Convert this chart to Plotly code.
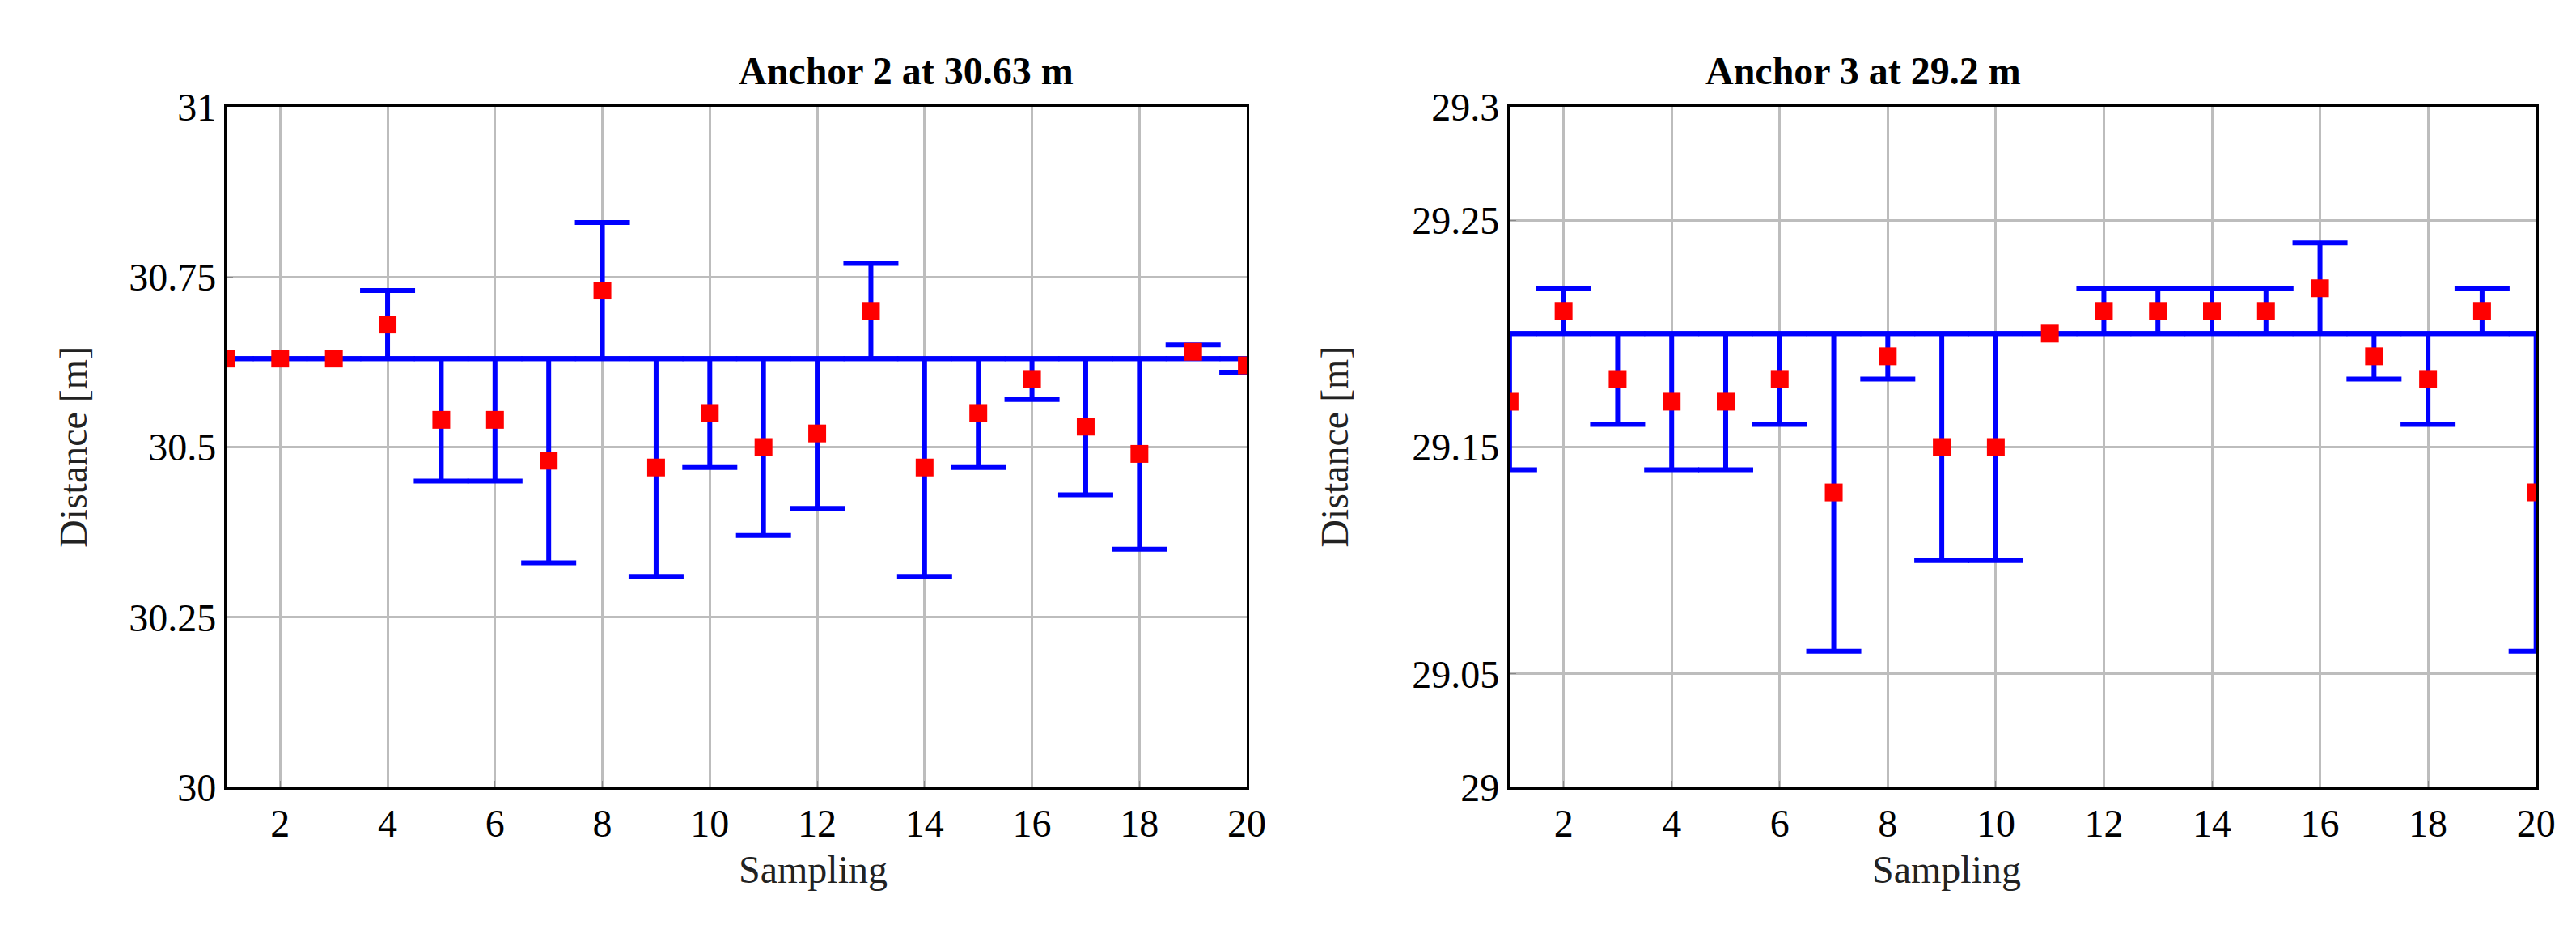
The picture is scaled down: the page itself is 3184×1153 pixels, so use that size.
import plotly.graph_objects as go
from plotly.subplots import make_subplots

samples = list(range(1, 21))
true2 = 30.63
meas2 = [30.63, 30.63, 30.63, 30.68, 30.54, 30.54, 30.48, 30.73, 30.47, 30.55,
         30.50, 30.52, 30.70, 30.47, 30.55, 30.60, 30.53, 30.49, 30.64, 30.62]
true3 = 29.2
meas3 = [29.17, 29.21, 29.18, 29.17, 29.17, 29.18, 29.13, 29.19, 29.15, 29.15,
         29.20, 29.21, 29.21, 29.21, 29.21, 29.22, 29.19, 29.18, 29.21, 29.13]
titles = ["Anchor 2 at 30.63 m", "Anchor 3 at 29.2 m"]
yt2 = [30, 30.25, 30.5, 30.75, 31]
yt2_txt = ["30", "30.25", "30.5", "30.75", "31"]
yt3 = [29, 29.05, 29.15, 29.25, 29.3]
yt3_txt = ["29", "29.05", "29.15", "29.25", "29.3"]

FONT = "Liberation Serif"
FS = 48
fig = make_subplots(rows=1, cols=2)
for col, (tv, meas) in enumerate([(true2, meas2), (true3, meas3)], start=1):
    fig.add_trace(go.Scatter(x=samples, y=[tv] * len(samples), mode="lines",
                             line=dict(color="#0000ff", width=6), showlegend=False), row=1, col=col)
    fig.add_trace(go.Scatter(x=samples, y=meas, mode="markers",
                             marker=dict(color="#ff0000", size=22, symbol="square"),
                             error_y=dict(type="data", array=[abs(m - tv) for m in meas],
                                          color="#0000ff", thickness=6, width=34),
                             showlegend=False), row=1, col=col)

axis_common = dict(showline=True, linecolor="black", linewidth=3, mirror=True,
                   showgrid=True, gridcolor="#bdbdbd", gridwidth=3, zeroline=False,
                   ticks="inside", ticklen=8, tickcolor="#888", automargin=False,
                   tickfont=dict(family=FONT, size=FS, color="black"))
for i in (1, 2):
    fig.update_xaxes(axis_common, range=[1, 20], tickvals=list(range(2, 21, 2)), row=1, col=i)
fig.update_yaxes(axis_common, range=[30, 31], tickvals=yt2, ticktext=yt2_txt, row=1, col=1)
fig.update_yaxes(axis_common, range=[29, 29.3], tickvals=yt3, ticktext=yt3_txt, row=1, col=2)
fig.update_layout(xaxis=dict(domain=[0.0854, 0.4815]), xaxis2=dict(domain=[0.5835, 0.982]),
                  yaxis=dict(domain=[0.163, 0.8925]), yaxis2=dict(domain=[0.163, 0.8925]))
for x0, xl, t in [(0.2835, 0.017, titles[0]), (0.7828, 0.5155, titles[1])]:
    fig.add_annotation(x=x0, y=0.956, xref="paper", yref="paper", text="<b>" + t + "</b>",
                       showarrow=False, font=dict(family=FONT, size=FS, color="black"))
    fig.add_annotation(x=x0, y=0.05, xref="paper", yref="paper", text="Sampling",
                       showarrow=False, font=dict(family=FONT, size=FS, color="#222"))
    fig.add_annotation(x=xl, y=0.5278, xref="paper", yref="paper", text="Distance [m]",
                       textangle=-90, showarrow=False,
                       font=dict(family=FONT, size=FS, color="#222"))
fig.update_layout(width=3184, height=1153, margin=dict(l=0, r=0, t=0, b=0),
                  plot_bgcolor="white", paper_bgcolor="white")
fig.write_html("out.html")
